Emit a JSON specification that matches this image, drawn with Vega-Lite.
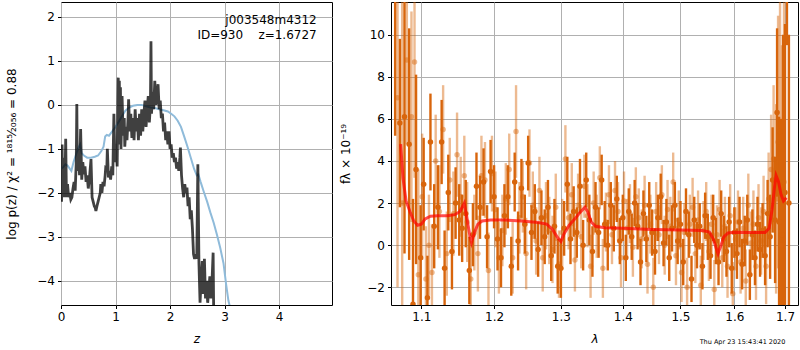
{
 "$schema": "https://vega.github.io/schema/vega-lite/v6.json",
 "padding": {"left": 5, "top": 1, "right": 0, "bottom": 0},
 "bounds": "flush",
 "spacing": 59,
 "config": {
  "font": "DejaVu Sans",
  "view": {"stroke": "black", "strokeWidth": 1},
  "axis": {"gridColor": "#b0b0b0", "gridWidth": 1, "gridOpacity": 1, "domain": false, "tickColor": "black", "tickSize": 3.5, "tickWidth": 1, "labelFontSize": 12, "labelColor": "black", "labelPadding": 3, "labelFlush": false, "labelOverlap": false, "titleFontSize": 12, "titleFontWeight": "normal", "titleColor": "black"},
  "axisX": {"titlePadding": 11}
 },
 "datasets": {
  "pz": [
   {"z":0.00,"v":-1.3},{"z":0.01,"v":-2.2},{"z":0.02,"v":-0.9},{"z":0.03,"v":-2.1},{"z":0.04,"v":-1.4},{"z":0.05,"v":-2.1},{"z":0.06,"v":-1.2},{"z":0.07,"v":-2.0},{"z":0.086,"v":-0.77},{"z":0.10,"v":-2.1},{"z":0.12,"v":-1.8},{"z":0.14,"v":-2.1},{"z":0.16,"v":-2.0},{"z":0.18,"v":-2.15},{"z":0.20,"v":-2.1},{"z":0.22,"v":-1.9},{"z":0.24,"v":-1.75},{"z":0.26,"v":-1.95},{"z":0.28,"v":-1.3},{"z":0.29,"v":0.02},{"z":0.30,"v":-1.5},{"z":0.32,"v":-1.0},{"z":0.34,"v":-1.6},{"z":0.36,"v":-0.55},{"z":0.38,"v":-1.7},{"z":0.40,"v":-1.3},{"z":0.42,"v":-1.58},{"z":0.44,"v":-1.4},{"z":0.46,"v":-1.75},{"z":0.48,"v":-1.6},{"z":0.50,"v":-1.9},{"z":0.52,"v":-1.7},{"z":0.55,"v":-1.23},{"z":0.57,"v":-2.1},{"z":0.59,"v":-2.2},{"z":0.61,"v":-2.3},{"z":0.63,"v":-2.35},{"z":0.64,"v":-2.41},{"z":0.66,"v":-2.3},{"z":0.68,"v":-2.2},{"z":0.70,"v":-2.1},{"z":0.72,"v":-2.0},{"z":0.73,"v":-1.8},{"z":0.75,"v":-2.0},{"z":0.77,"v":-1.75},{"z":0.79,"v":-1.85},{"z":0.81,"v":-1.6},{"z":0.82,"v":-1.43},{"z":0.84,"v":-1.45},{"z":0.85,"v":-1.0},{"z":0.87,"v":-1.65},{"z":0.89,"v":-1.5},{"z":0.91,"v":-1.7},{"z":0.93,"v":-1.4},{"z":0.95,"v":-1.6},{"z":0.97,"v":-0.2},{"z":0.99,"v":-1.3},{"z":1.01,"v":-0.9},{"z":1.03,"v":-1.4},{"z":1.05,"v":0.62},{"z":1.06,"v":-0.6},{"z":1.07,"v":0.55},{"z":1.08,"v":-0.9},{"z":1.09,"v":0.4},{"z":1.10,"v":-1.0},{"z":1.12,"v":0.2},{"z":1.14,"v":-0.7},{"z":1.16,"v":-0.3},{"z":1.17,"v":-0.95},{"z":1.19,"v":-0.5},{"z":1.21,"v":-0.8},{"z":1.23,"v":-0.3},{"z":1.24,"v":0.13},{"z":1.26,"v":-0.6},{"z":1.28,"v":-0.2},{"z":1.30,"v":-0.75},{"z":1.32,"v":-0.3},{"z":1.34,"v":-0.8},{"z":1.36,"v":-0.1},{"z":1.38,"v":-0.6},{"z":1.40,"v":-0.3},{"z":1.42,"v":-0.8},{"z":1.44,"v":-0.2},{"z":1.46,"v":-0.7},{"z":1.48,"v":-0.1},{"z":1.50,"v":-0.6},{"z":1.52,"v":-0.2},{"z":1.54,"v":0.1},{"z":1.56,"v":-0.5},{"z":1.58,"v":-0.1},{"z":1.60,"v":0.2},{"z":1.62,"v":-0.4},{"z":1.64,"v":0.0},{"z":1.65,"v":1.45},{"z":1.66,"v":-0.2},{"z":1.68,"v":0.3},{"z":1.70,"v":-0.1},{"z":1.72,"v":0.55},{"z":1.74,"v":0.0},{"z":1.76,"v":0.2},{"z":1.78,"v":0.47},{"z":1.80,"v":-0.1},{"z":1.82,"v":0.1},{"z":1.84,"v":-0.3},{"z":1.86,"v":-0.2},{"z":1.88,"v":-0.6},{"z":1.90,"v":-0.4},{"z":1.92,"v":-0.8},{"z":1.94,"v":-0.6},{"z":1.96,"v":-0.9},{"z":1.98,"v":-0.6},{"z":2.00,"v":-1.0},{"z":2.02,"v":-0.9},{"z":2.04,"v":-1.2},{"z":2.06,"v":-1.1},{"z":2.08,"v":-1.3},{"z":2.10,"v":-1.2},{"z":2.12,"v":-1.45},{"z":2.14,"v":-1.3},{"z":2.16,"v":-1.5},{"z":2.18,"v":-1.2},{"z":2.19,"v":-0.97},{"z":2.21,"v":-1.6},{"z":2.23,"v":-1.9},{"z":2.25,"v":-2.1},{"z":2.27,"v":-1.8},{"z":2.29,"v":-2.0},{"z":2.31,"v":-1.88},{"z":2.33,"v":-2.3},{"z":2.35,"v":-2.1},{"z":2.37,"v":-2.6},{"z":2.39,"v":-2.4},{"z":2.41,"v":-2.8},{"z":2.43,"v":-3.39},{"z":2.45,"v":-3.5},{"z":2.47,"v":-3.4},{"z":2.49,"v":-3.5},{"z":2.51,"v":-1.35},{"z":2.53,"v":-3.6},{"z":2.55,"v":-4.5},{"z":2.57,"v":-4.0},{"z":2.59,"v":-3.55},{"z":2.61,"v":-4.3},{"z":2.63,"v":-3.5},{"z":2.65,"v":-4.4},{"z":2.67,"v":-4.0},{"z":2.69,"v":-4.5},{"z":2.71,"v":-4.2},{"z":2.73,"v":-3.9},{"z":2.75,"v":-4.4},{"z":2.77,"v":-4.0},{"z":2.79,"v":-3.36},{"z":2.80,"v":-4.7}
  ],
  "chi": [
   {"z":0.00,"v":-1.45},{"z":0.04,"v":-1.42},{"z":0.08,"v":-1.35},{"z":0.12,"v":-1.38},{"z":0.16,"v":-1.45},{"z":0.19,"v":-1.5},{"z":0.23,"v":-1.3},{"z":0.27,"v":-1.15},{"z":0.31,"v":-1.0},{"z":0.35,"v":-0.9},{"z":0.38,"v":-1.1},{"z":0.42,"v":-1.15},{"z":0.48,"v":-1.2},{"z":0.55,"v":-1.2},{"z":0.62,"v":-1.18},{"z":0.68,"v":-1.15},{"z":0.74,"v":-1.05},{"z":0.78,"v":-0.95},{"z":0.81,"v":-0.72},{"z":0.84,"v":-0.68},{"z":0.88,"v":-0.7},{"z":0.94,"v":-0.6},{"z":1.00,"v":-0.5},{"z":1.06,"v":-0.38},{"z":1.12,"v":-0.25},{"z":1.18,"v":-0.13},{"z":1.25,"v":-0.06},{"z":1.32,"v":-0.02},{"z":1.40,"v":0.0},{"z":1.48,"v":0.0},{"z":1.56,"v":-0.03},{"z":1.64,"v":-0.06},{"z":1.72,"v":-0.07},{"z":1.80,"v":-0.1},{"z":1.88,"v":-0.12},{"z":1.96,"v":-0.15},{"z":2.02,"v":-0.2},{"z":2.08,"v":-0.26},{"z":2.14,"v":-0.36},{"z":2.20,"v":-0.5},{"z":2.26,"v":-0.72},{"z":2.32,"v":-0.95},{"z":2.38,"v":-1.2},{"z":2.44,"v":-1.45},{"z":2.49,"v":-1.6},{"z":2.52,"v":-1.58},{"z":2.56,"v":-1.75},{"z":2.62,"v":-1.98},{"z":2.68,"v":-2.2},{"z":2.74,"v":-2.45},{"z":2.80,"v":-2.68},{"z":2.86,"v":-2.95},{"z":2.92,"v":-3.25},{"z":2.98,"v":-3.6},{"z":3.03,"v":-4.1},{"z":3.07,"v":-4.45},{"z":3.10,"v":-4.6}
  ],
  "notes": [
   {"z":4.69,"v":1.834,"t":"j003548m4312"},
   {"z":4.69,"v":1.493,"t":"ID=930\u00a0\u00a0\u00a0\u00a0z=1.6727"}
  ],
  "spec": [
   {"w":1.066,"f":12,"lo":5.2,"hi":18.8,"s":"A"},{"w":1.072,"f":5.8,"lo":1.8,"hi":9.8,"s":"A"},{"w":1.078,"f":6.1,"lo":-0.4,"hi":12.6,"s":"A"},{"w":1.084,"f":4.8,"lo":-0.7,"hi":10.3,"s":"A"},{"w":1.089,"f":-2.8,"lo":-7.8,"hi":2.2,"s":"A"},{"w":1.093,"f":3.6,"lo":-0.9,"hi":8.1,"s":"A"},{"w":1.099,"f":-0.6,"lo":-3.1,"hi":1.9,"s":"A"},{"w":1.103,"f":2.9,"lo":0.7,"hi":5.1,"s":"A"},{"w":1.108,"f":-2.5,"lo":-4.5,"hi":-0.5,"s":"A"},{"w":1.112,"f":4.9,"lo":2.6,"hi":7.2,"s":"A"},{"w":1.117,"f":0.9,"lo":-1.1,"hi":2.9,"s":"A"},{"w":1.122,"f":1.8,"lo":-0.2,"hi":3.8,"s":"A"},{"w":1.127,"f":4.9,"lo":2.9,"hi":6.9,"s":"A"},{"w":1.131,"f":-1.1,"lo":-2.9,"hi":0.7,"s":"A"},{"w":1.136,"f":2.5,"lo":0.7,"hi":4.3,"s":"A"},{"w":1.141,"f":-0.3,"lo":-2.1,"hi":1.5,"s":"A"},{"w":1.146,"f":2.0,"lo":0.3,"hi":3.7,"s":"A"},{"w":1.151,"f":1.2,"lo":-0.5,"hi":2.9,"s":"A"},{"w":1.155,"f":0.8,"lo":-0.8,"hi":2.4,"s":"A"},{"w":1.160,"f":1.5,"lo":-0.1,"hi":3.1,"s":"A"},{"w":1.165,"f":-1.2,"lo":-2.8,"hi":0.4,"s":"A"},{"w":1.170,"f":0.5,"lo":-1.0,"hi":2.0,"s":"A"},{"w":1.175,"f":2.8,"lo":1.2,"hi":4.4,"s":"A"},{"w":1.180,"f":1.8,"lo":0.3,"hi":3.3,"s":"A"},{"w":1.185,"f":3.0,"lo":1.4,"hi":4.6,"s":"A"},{"w":1.190,"f":0.4,"lo":-1.1,"hi":1.9,"s":"A"},{"w":1.195,"f":3.5,"lo":2.0,"hi":5.0,"s":"A"},{"w":1.200,"f":2.3,"lo":0.8,"hi":3.8,"s":"A"},{"w":1.205,"f":0.3,"lo":-1.2,"hi":1.8,"s":"A"},{"w":1.210,"f":-0.6,"lo":-2.0,"hi":0.8,"s":"A"},{"w":1.215,"f":1.4,"lo":-0.1,"hi":2.9,"s":"A"},{"w":1.220,"f":2.3,"lo":0.8,"hi":3.8,"s":"A"},{"w":1.225,"f":-1.0,"lo":-2.4,"hi":0.4,"s":"A"},{"w":1.230,"f":3.0,"lo":1.6,"hi":4.4,"s":"A"},{"w":1.235,"f":0.2,"lo":-1.2,"hi":1.6,"s":"A"},{"w":1.240,"f":2.7,"lo":1.3,"hi":4.1,"s":"A"},{"w":1.245,"f":1.0,"lo":-0.4,"hi":2.4,"s":"A"},{"w":1.250,"f":3.9,"lo":2.6,"hi":5.2,"s":"A"},{"w":1.255,"f":0.6,"lo":-0.7,"hi":1.9,"s":"A"},{"w":1.260,"f":1.6,"lo":0.3,"hi":2.9,"s":"A"},{"w":1.265,"f":-0.2,"lo":-1.5,"hi":1.1,"s":"A"},{"w":1.270,"f":1.3,"lo":0.0,"hi":2.6,"s":"A"},{"w":1.275,"f":0.4,"lo":-0.9,"hi":1.7,"s":"A"},{"w":1.280,"f":1.8,"lo":0.5,"hi":3.1,"s":"A"},{"w":1.285,"f":-0.5,"lo":-1.7,"hi":0.7,"s":"A"},{"w":1.290,"f":0.9,"lo":-0.4,"hi":2.2,"s":"A"},{"w":1.295,"f":-1.0,"lo":-2.3,"hi":0.3,"s":"A"},{"w":1.300,"f":-1.1,"lo":-2.5,"hi":0.3,"s":"A"},{"w":1.305,"f":0.8,"lo":-0.5,"hi":2.1,"s":"A"},{"w":1.310,"f":2.9,"lo":1.6,"hi":4.2,"s":"A"},{"w":1.315,"f":0.3,"lo":-0.9,"hi":1.5,"s":"A"},{"w":1.320,"f":1.6,"lo":0.4,"hi":2.8,"s":"A"},{"w":1.325,"f":0.6,"lo":-0.6,"hi":1.8,"s":"A"},{"w":1.330,"f":2.8,"lo":1.5,"hi":4.1,"s":"A"},{"w":1.335,"f":0.0,"lo":-1.2,"hi":1.2,"s":"A"},{"w":1.340,"f":3.1,"lo":1.8,"hi":4.4,"s":"A"},{"w":1.345,"f":1.2,"lo":0.0,"hi":2.4,"s":"A"},{"w":1.350,"f":-0.3,"lo":-1.5,"hi":0.9,"s":"A"},{"w":1.355,"f":1.8,"lo":0.6,"hi":3.0,"s":"A"},{"w":1.360,"f":0.6,"lo":-0.6,"hi":1.8,"s":"A"},{"w":1.365,"f":3.1,"lo":1.9,"hi":4.3,"s":"A"},{"w":1.370,"f":1.0,"lo":-0.1,"hi":2.1,"s":"A"},{"w":1.375,"f":0.0,"lo":-1.2,"hi":1.2,"s":"A"},{"w":1.380,"f":1.9,"lo":0.8,"hi":3.0,"s":"A"},{"w":1.385,"f":0.8,"lo":-0.3,"hi":1.9,"s":"A"},{"w":1.390,"f":2.2,"lo":1.1,"hi":3.3,"s":"A"},{"w":1.395,"f":0.2,"lo":-0.9,"hi":1.3,"s":"A"},{"w":1.400,"f":1.3,"lo":0.2,"hi":2.4,"s":"A"},{"w":1.405,"f":-0.6,"lo":-1.7,"hi":0.5,"s":"A"},{"w":1.410,"f":1.6,"lo":0.5,"hi":2.7,"s":"A"},{"w":1.415,"f":0.4,"lo":-0.7,"hi":1.5,"s":"A"},{"w":1.420,"f":2.0,"lo":0.9,"hi":3.1,"s":"A"},{"w":1.425,"f":0.9,"lo":-0.2,"hi":2.0,"s":"A"},{"w":1.430,"f":-0.8,"lo":-1.9,"hi":0.3,"s":"A"},{"w":1.435,"f":1.5,"lo":0.4,"hi":2.6,"s":"A"},{"w":1.440,"f":0.3,"lo":-0.8,"hi":1.4,"s":"A"},{"w":1.445,"f":1.9,"lo":0.8,"hi":3.0,"s":"A"},{"w":1.450,"f":0.6,"lo":-0.5,"hi":1.7,"s":"A"},{"w":1.455,"f":-0.3,"lo":-1.4,"hi":0.8,"s":"A"},{"w":1.460,"f":1.3,"lo":0.2,"hi":2.4,"s":"A"},{"w":1.465,"f":2.3,"lo":1.2,"hi":3.4,"s":"A"},{"w":1.470,"f":0.1,"lo":-1.0,"hi":1.2,"s":"A"},{"w":1.475,"f":1.1,"lo":0.0,"hi":2.2,"s":"A"},{"w":1.480,"f":-0.6,"lo":-1.7,"hi":0.5,"s":"A"},{"w":1.485,"f":0.8,"lo":-0.3,"hi":1.9,"s":"A"},{"w":1.490,"f":1.9,"lo":0.8,"hi":3.0,"s":"A"},{"w":1.495,"f":0.2,"lo":-0.9,"hi":1.3,"s":"A"},{"w":1.500,"f":1.0,"lo":-0.1,"hi":2.1,"s":"A"},{"w":1.505,"f":-0.8,"lo":-1.9,"hi":0.3,"s":"A"},{"w":1.510,"f":1.6,"lo":0.5,"hi":2.7,"s":"A"},{"w":1.515,"f":0.5,"lo":-0.6,"hi":1.6,"s":"A"},{"w":1.520,"f":-1.6,"lo":-2.7,"hi":-0.5,"s":"A"},{"w":1.525,"f":1.2,"lo":0.1,"hi":2.3,"s":"A"},{"w":1.530,"f":0.0,"lo":-1.1,"hi":1.1,"s":"A"},{"w":1.535,"f":0.9,"lo":-0.2,"hi":2.0,"s":"A"},{"w":1.540,"f":-1.0,"lo":-2.1,"hi":0.1,"s":"A"},{"w":1.545,"f":1.4,"lo":0.3,"hi":2.5,"s":"A"},{"w":1.550,"f":0.4,"lo":-0.7,"hi":1.5,"s":"A"},{"w":1.555,"f":-0.5,"lo":-1.6,"hi":0.6,"s":"A"},{"w":1.560,"f":1.3,"lo":0.2,"hi":2.4,"s":"A"},{"w":1.565,"f":0.2,"lo":-0.9,"hi":1.3,"s":"A"},{"w":1.570,"f":-0.8,"lo":-1.9,"hi":0.3,"s":"A"},{"w":1.575,"f":1.5,"lo":0.4,"hi":2.6,"s":"A"},{"w":1.580,"f":0.3,"lo":-0.8,"hi":1.4,"s":"A"},{"w":1.585,"f":-0.3,"lo":-1.5,"hi":0.9,"s":"A"},{"w":1.590,"f":1.1,"lo":-0.1,"hi":2.3,"s":"A"},{"w":1.595,"f":-1.1,"lo":-2.3,"hi":0.1,"s":"A"},{"w":1.600,"f":0.6,"lo":-0.6,"hi":1.8,"s":"A"},{"w":1.605,"f":-0.4,"lo":-1.6,"hi":0.8,"s":"A"},{"w":1.610,"f":1.1,"lo":-0.1,"hi":2.3,"s":"A"},{"w":1.615,"f":-0.9,"lo":-2.1,"hi":0.3,"s":"A"},{"w":1.620,"f":0.2,"lo":-1.0,"hi":1.4,"s":"A"},{"w":1.625,"f":1.2,"lo":0.0,"hi":2.4,"s":"A"},{"w":1.630,"f":-1.4,"lo":-2.6,"hi":-0.2,"s":"A"},{"w":1.635,"f":0.5,"lo":-0.7,"hi":1.7,"s":"A"},{"w":1.640,"f":-0.6,"lo":-1.9,"hi":0.7,"s":"A"},{"w":1.645,"f":1.0,"lo":-0.3,"hi":2.3,"s":"A"},{"w":1.650,"f":-0.2,"lo":-1.5,"hi":1.1,"s":"A"},{"w":1.655,"f":0.7,"lo":-0.6,"hi":2.0,"s":"A"},{"w":1.660,"f":-0.5,"lo":-1.9,"hi":0.9,"s":"A"},{"w":1.665,"f":1.5,"lo":-0.1,"hi":3.1,"s":"A"},{"w":1.670,"f":0.4,"lo":-1.6,"hi":2.4,"s":"A"},{"w":1.675,"f":3.1,"lo":0.6,"hi":5.6,"s":"A"},{"w":1.680,"f":1.2,"lo":-1.8,"hi":4.2,"s":"A"},{"w":1.684,"f":6.3,"lo":2.3,"hi":10.3,"s":"A"},{"w":1.688,"f":1.1,"lo":-3.9,"hi":6.1,"s":"A"},{"w":1.692,"f":0.0,"lo":-6.0,"hi":6.0,"s":"A"},{"w":1.696,"f":3.0,"lo":-4.0,"hi":10.0,"s":"A"},{"w":1.700,"f":2.5,"lo":-5.5,"hi":10.5,"s":"A"},{"w":1.704,"f":14.0,"lo":9.5,"hi":18.5,"s":"A"},{"w":1.708,"f":2.0,"lo":-6.0,"hi":10.0,"s":"A"},
   {"w":1.069,"f":7.0,"lo":-2.0,"hi":16.0,"s":"B"},{"w":1.075,"f":2.0,"lo":-8.0,"hi":12.0,"s":"B"},{"w":1.081,"f":8.8,"lo":4.8,"hi":12.8,"s":"B"},{"w":1.087,"f":6.1,"lo":1.1,"hi":11.1,"s":"B"},{"w":1.091,"f":8.7,"lo":3.2,"hi":14.2,"s":"B"},{"w":1.096,"f":-1.4,"lo":-6.4,"hi":3.6,"s":"B"},{"w":1.101,"f":2.3,"lo":-0.7,"hi":5.3,"s":"B"},{"w":1.106,"f":-1.6,"lo":-4.1,"hi":0.9,"s":"B"},{"w":1.110,"f":0.0,"lo":-2.4,"hi":2.4,"s":"B"},{"w":1.114,"f":-1.3,"lo":-3.6,"hi":1.0,"s":"B"},{"w":1.119,"f":4.0,"lo":1.8,"hi":6.2,"s":"B"},{"w":1.124,"f":1.6,"lo":-0.6,"hi":3.8,"s":"B"},{"w":1.129,"f":5.5,"lo":3.4,"hi":7.6,"s":"B"},{"w":1.134,"f":-0.4,"lo":-2.4,"hi":1.6,"s":"B"},{"w":1.138,"f":3.1,"lo":1.1,"hi":5.1,"s":"B"},{"w":1.143,"f":1.5,"lo":-0.5,"hi":3.5,"s":"B"},{"w":1.148,"f":4.3,"lo":2.3,"hi":6.3,"s":"B"},{"w":1.153,"f":2.3,"lo":0.4,"hi":4.2,"s":"B"},{"w":1.158,"f":3.3,"lo":1.4,"hi":5.2,"s":"B"},{"w":1.162,"f":1.1,"lo":-0.8,"hi":3.0,"s":"B"},{"w":1.167,"f":-1.6,"lo":-3.4,"hi":0.2,"s":"B"},{"w":1.172,"f":0.6,"lo":-1.2,"hi":2.4,"s":"B"},{"w":1.177,"f":-0.4,"lo":-2.2,"hi":1.4,"s":"B"},{"w":1.182,"f":3.3,"lo":1.4,"hi":5.2,"s":"B"},{"w":1.187,"f":3.1,"lo":1.3,"hi":4.9,"s":"B"},{"w":1.192,"f":-1.2,"lo":-3.0,"hi":0.6,"s":"B"},{"w":1.197,"f":3.4,"lo":1.6,"hi":5.2,"s":"B"},{"w":1.202,"f":1.7,"lo":-0.1,"hi":3.5,"s":"B"},{"w":1.207,"f":-0.6,"lo":-2.3,"hi":1.1,"s":"B"},{"w":1.212,"f":0.7,"lo":-1.0,"hi":2.4,"s":"B"},{"w":1.217,"f":2.2,"lo":0.5,"hi":3.9,"s":"B"},{"w":1.222,"f":3.6,"lo":1.9,"hi":5.3,"s":"B"},{"w":1.227,"f":-0.6,"lo":-2.3,"hi":1.1,"s":"B"},{"w":1.232,"f":5.4,"lo":3.2,"hi":7.6,"s":"B"},{"w":1.237,"f":1.3,"lo":-0.4,"hi":3.0,"s":"B"},{"w":1.242,"f":2.3,"lo":0.6,"hi":4.0,"s":"B"},{"w":1.247,"f":-0.4,"lo":-2.1,"hi":1.3,"s":"B"},{"w":1.252,"f":3.9,"lo":2.3,"hi":5.5,"s":"B"},{"w":1.257,"f":1.9,"lo":0.3,"hi":3.5,"s":"B"},{"w":1.262,"f":0.2,"lo":-1.4,"hi":1.8,"s":"B"},{"w":1.267,"f":2.6,"lo":1.0,"hi":4.2,"s":"B"},{"w":1.272,"f":-0.6,"lo":-2.2,"hi":1.0,"s":"B"},{"w":1.277,"f":1.4,"lo":-0.2,"hi":3.0,"s":"B"},{"w":1.282,"f":0.7,"lo":-0.9,"hi":2.3,"s":"B"},{"w":1.287,"f":-0.2,"lo":-1.8,"hi":1.4,"s":"B"},{"w":1.292,"f":1.8,"lo":0.2,"hi":3.4,"s":"B"},{"w":1.297,"f":-0.9,"lo":-2.5,"hi":0.7,"s":"B"},{"w":1.302,"f":0.6,"lo":-1.0,"hi":2.2,"s":"B"},{"w":1.307,"f":4.1,"lo":2.5,"hi":5.7,"s":"B"},{"w":1.312,"f":1.3,"lo":-0.2,"hi":2.8,"s":"B"},{"w":1.317,"f":2.4,"lo":0.9,"hi":3.9,"s":"B"},{"w":1.322,"f":-0.7,"lo":-2.2,"hi":0.8,"s":"B"},{"w":1.327,"f":1.9,"lo":0.4,"hi":3.4,"s":"B"},{"w":1.332,"f":0.4,"lo":-1.1,"hi":1.9,"s":"B"},{"w":1.337,"f":2.8,"lo":1.3,"hi":4.3,"s":"B"},{"w":1.342,"f":1.4,"lo":-0.1,"hi":2.9,"s":"B"},{"w":1.347,"f":-1.0,"lo":-2.5,"hi":0.5,"s":"B"},{"w":1.352,"f":2.0,"lo":0.5,"hi":3.5,"s":"B"},{"w":1.357,"f":0.9,"lo":-0.6,"hi":2.4,"s":"B"},{"w":1.362,"f":3.2,"lo":1.7,"hi":4.7,"s":"B"},{"w":1.367,"f":-1.1,"lo":-2.5,"hi":0.3,"s":"B"},{"w":1.372,"f":1.1,"lo":-0.3,"hi":2.5,"s":"B"},{"w":1.377,"f":2.4,"lo":1.0,"hi":3.8,"s":"B"},{"w":1.382,"f":0.5,"lo":-0.9,"hi":1.9,"s":"B"},{"w":1.387,"f":2.6,"lo":1.2,"hi":4.0,"s":"B"},{"w":1.392,"f":1.6,"lo":0.2,"hi":3.0,"s":"B"},{"w":1.397,"f":-0.6,"lo":-2.0,"hi":0.8,"s":"B"},{"w":1.402,"f":2.1,"lo":0.7,"hi":3.5,"s":"B"},{"w":1.407,"f":0.8,"lo":-0.6,"hi":2.2,"s":"B"},{"w":1.412,"f":1.5,"lo":0.1,"hi":2.9,"s":"B"},{"w":1.417,"f":-0.1,"lo":-1.5,"hi":1.3,"s":"B"},{"w":1.422,"f":2.3,"lo":0.9,"hi":3.7,"s":"B"},{"w":1.427,"f":1.3,"lo":-0.1,"hi":2.7,"s":"B"},{"w":1.432,"f":0.3,"lo":-1.1,"hi":1.7,"s":"B"},{"w":1.437,"f":1.9,"lo":0.5,"hi":3.3,"s":"B"},{"w":1.442,"f":-0.9,"lo":-2.3,"hi":0.5,"s":"B"},{"w":1.447,"f":1.0,"lo":-0.4,"hi":2.4,"s":"B"},{"w":1.452,"f":-2.0,"lo":-3.4,"hi":-0.6,"s":"B"},{"w":1.457,"f":1.6,"lo":0.2,"hi":3.0,"s":"B"},{"w":1.462,"f":0.5,"lo":-0.9,"hi":1.9,"s":"B"},{"w":1.467,"f":2.4,"lo":1.0,"hi":3.8,"s":"B"},{"w":1.472,"f":0.0,"lo":-1.4,"hi":1.4,"s":"B"},{"w":1.477,"f":1.7,"lo":0.3,"hi":3.1,"s":"B"},{"w":1.482,"f":0.9,"lo":-0.5,"hi":2.3,"s":"B"},{"w":1.487,"f":3.0,"lo":1.6,"hi":4.4,"s":"B"},{"w":1.492,"f":-0.5,"lo":-1.9,"hi":0.9,"s":"B"},{"w":1.497,"f":1.2,"lo":-0.2,"hi":2.6,"s":"B"},{"w":1.502,"f":-1.3,"lo":-2.7,"hi":0.1,"s":"B"},{"w":1.507,"f":0.6,"lo":-0.8,"hi":2.0,"s":"B"},{"w":1.512,"f":-2.0,"lo":-3.4,"hi":-0.6,"s":"B"},{"w":1.517,"f":1.0,"lo":-0.4,"hi":2.4,"s":"B"},{"w":1.522,"f":1.8,"lo":0.4,"hi":3.2,"s":"B"},{"w":1.527,"f":-0.4,"lo":-1.8,"hi":1.0,"s":"B"},{"w":1.532,"f":1.2,"lo":-0.2,"hi":2.6,"s":"B"},{"w":1.537,"f":-1.9,"lo":-3.3,"hi":-0.5,"s":"B"},{"w":1.542,"f":0.7,"lo":-0.7,"hi":2.1,"s":"B"},{"w":1.547,"f":1.6,"lo":0.2,"hi":3.0,"s":"B"},{"w":1.552,"f":-0.3,"lo":-1.7,"hi":1.1,"s":"B"},{"w":1.557,"f":1.0,"lo":-0.4,"hi":2.4,"s":"B"},{"w":1.562,"f":-2.1,"lo":-3.5,"hi":-0.7,"s":"B"},{"w":1.567,"f":0.5,"lo":-0.9,"hi":1.9,"s":"B"},{"w":1.572,"f":1.7,"lo":0.3,"hi":3.1,"s":"B"},{"w":1.577,"f":-0.6,"lo":-2.0,"hi":0.8,"s":"B"},{"w":1.582,"f":0.9,"lo":-0.5,"hi":2.3,"s":"B"},{"w":1.587,"f":-1.0,"lo":-2.5,"hi":0.5,"s":"B"},{"w":1.592,"f":1.4,"lo":-0.1,"hi":2.9,"s":"B"},{"w":1.597,"f":-2.3,"lo":-3.8,"hi":-0.8,"s":"B"},{"w":1.602,"f":0.3,"lo":-1.2,"hi":1.8,"s":"B"},{"w":1.607,"f":1.1,"lo":-0.4,"hi":2.6,"s":"B"},{"w":1.612,"f":-0.8,"lo":-2.3,"hi":0.7,"s":"B"},{"w":1.617,"f":0.8,"lo":-0.7,"hi":2.3,"s":"B"},{"w":1.622,"f":-1.7,"lo":-3.2,"hi":-0.2,"s":"B"},{"w":1.627,"f":1.9,"lo":0.4,"hi":3.4,"s":"B"},{"w":1.632,"f":0.1,"lo":-1.4,"hi":1.6,"s":"B"},{"w":1.637,"f":1.0,"lo":-0.6,"hi":2.6,"s":"B"},{"w":1.642,"f":-1.0,"lo":-2.6,"hi":0.6,"s":"B"},{"w":1.647,"f":1.3,"lo":-0.3,"hi":2.9,"s":"B"},{"w":1.652,"f":0.2,"lo":-1.4,"hi":1.8,"s":"B"},{"w":1.657,"f":1.6,"lo":-0.1,"hi":3.3,"s":"B"},{"w":1.662,"f":-1.0,"lo":-2.8,"hi":0.8,"s":"B"},{"w":1.667,"f":2.2,"lo":0.0,"hi":4.4,"s":"B"},{"w":1.672,"f":3.6,"lo":1.0,"hi":6.2,"s":"B"},{"w":1.677,"f":4.1,"lo":0.6,"hi":7.6,"s":"B"},{"w":1.682,"f":2.2,"lo":-2.3,"hi":6.7,"s":"B"},{"w":1.686,"f":4.9,"lo":-1.1,"hi":10.9,"s":"B"},{"w":1.690,"f":5.4,"lo":-1.6,"hi":12.4,"s":"B"},{"w":1.694,"f":0.5,"lo":-8.5,"hi":9.5,"s":"B"},{"w":1.698,"f":3.0,"lo":-7.0,"hi":13.0,"s":"B"}
  ],
  "model": [
   {"w":1.073,"f":4.8},{"w":1.076,"f":3.2},{"w":1.080,"f":2.1},{"w":1.085,"f":1.6},{"w":1.090,"f":1.15},{"w":1.095,"f":0.95},{"w":1.100,"f":1.0},{"w":1.105,"f":1.25},{"w":1.112,"f":1.38},{"w":1.122,"f":1.4},{"w":1.135,"f":1.4},{"w":1.145,"f":1.45},{"w":1.152,"f":1.6},{"w":1.158,"f":2.0},{"w":1.162,"f":1.2},{"w":1.166,"f":0.4},{"w":1.168,"f":0.12},{"w":1.172,"f":0.6},{"w":1.177,"f":1.0},{"w":1.183,"f":1.15},{"w":1.195,"f":1.2},{"w":1.215,"f":1.2},{"w":1.240,"f":1.15},{"w":1.265,"f":1.08},{"w":1.278,"f":1.0},{"w":1.287,"f":0.75},{"w":1.295,"f":0.35},{"w":1.300,"f":0.18},{"w":1.305,"f":0.55},{"w":1.313,"f":0.95},{"w":1.322,"f":1.25},{"w":1.330,"f":1.55},{"w":1.338,"f":1.8},{"w":1.343,"f":1.55},{"w":1.348,"f":1.1},{"w":1.355,"f":0.9},{"w":1.370,"f":0.83},{"w":1.400,"f":0.8},{"w":1.450,"f":0.75},{"w":1.500,"f":0.72},{"w":1.540,"f":0.7},{"w":1.553,"f":0.62},{"w":1.560,"f":0.3},{"w":1.565,"f":-0.1},{"w":1.569,"f":-0.4},{"w":1.574,"f":-0.05},{"w":1.580,"f":0.4},{"w":1.588,"f":0.58},{"w":1.600,"f":0.62},{"w":1.630,"f":0.6},{"w":1.660,"f":0.6},{"w":1.668,"f":0.8},{"w":1.674,"f":1.7},{"w":1.679,"f":2.8},{"w":1.682,"f":3.3},{"w":1.687,"f":3.0},{"w":1.692,"f":2.4},{"w":1.697,"f":2.1},{"w":1.703,"f":2.25}
  ],
  "stamp": [{"w":1.6157,"f":-4.7,"t":"Thu Apr 23 15:43:41 2020"}]
 },
 "hconcat": [
  {
   "width": 271,
   "height": 303,
   "layer": [
    {"data": {"name": "chi"}, "mark": {"type": "line", "color": "#8fbbda", "strokeWidth": 2, "clip": true},
     "encoding": {
      "x": {"field": "z", "type": "quantitative", "scale": {"domain": [0, 4.97], "nice": false, "zero": false}, "axis": {"title": "z", "titleFontStyle": "italic", "values": [0, 1, 2, 3, 4], "format": "d"}},
      "y": {"field": "v", "type": "quantitative", "scale": {"domain": [-4.55, 2.34], "nice": false, "zero": false}, "axis": {"title": "log p(z) / χ² = ¹⁸¹⁵⁄₂₀₅₆ = 0.88", "values": [-4, -3, -2, -1, 0, 1, 2], "labelExpr": "replace(format(datum.value,'d'),'-','−')", "titlePadding": 18}}
     }},
    {"data": {"name": "pz"}, "mark": {"type": "line", "color": "#000000", "opacity": 0.75, "strokeWidth": 2.8, "clip": true},
     "encoding": {
      "x": {"field": "z", "type": "quantitative"},
      "y": {"field": "v", "type": "quantitative"}
     }},
    {"data": {"name": "notes"}, "mark": {"type": "text", "align": "right", "baseline": "alphabetic", "fontSize": 12, "color": "black"},
     "encoding": {
      "x": {"field": "z", "type": "quantitative"},
      "y": {"field": "v", "type": "quantitative"},
      "text": {"field": "t"}
     }}
   ]
  },
  {
   "width": 407,
   "height": 303,
   "layer": [
    {"data": {"name": "spec"}, "mark": {"type": "rule", "strokeWidth": 2.4, "clip": true},
     "encoding": {
      "x": {"field": "w", "type": "quantitative", "scale": {"type": "log", "domain": [1.0607, 1.7267], "nice": false}, "axis": {"title": "λ", "titleFontStyle": "italic", "values": [1.1, 1.2, 1.3, 1.4, 1.5, 1.6, 1.7], "format": ".1f"}},
      "y": {"field": "lo", "type": "quantitative", "scale": {"domain": [-2.84, 11.55], "nice": false, "zero": false}, "axis": {"title": "fλ × 10⁻¹⁹", "values": [-2, 0, 2, 4, 6, 8, 10], "labelExpr": "replace(format(datum.value,'d'),'-','−')", "titlePadding": 14}},
      "y2": {"field": "hi"},
      "color": {"field": "s", "type": "nominal", "scale": {"domain": ["A", "B"], "range": ["#d8650c", "#d8650c"]}, "legend": null},
      "opacity": {"field": "s", "type": "nominal", "scale": {"domain": ["A", "B"], "range": [1, 0.45]}, "legend": null}
     }},
    {"data": {"name": "spec"}, "mark": {"type": "circle", "size": 30, "clip": true},
     "encoding": {
      "x": {"field": "w", "type": "quantitative"},
      "y": {"field": "f", "type": "quantitative", "axis": {"title": "fλ × 10⁻¹⁹"}},
      "color": {"field": "s", "type": "nominal", "scale": {"domain": ["A", "B"], "range": ["#d8650c", "#d8650c"]}, "legend": null},
      "opacity": {"field": "s", "type": "nominal", "scale": {"domain": ["A", "B"], "range": [1, 0.45]}, "legend": null}
     }},
    {"data": {"name": "model"}, "mark": {"type": "line", "color": "#ff0000", "opacity": 0.7, "strokeWidth": 3, "clip": true},
     "encoding": {
      "x": {"field": "w", "type": "quantitative"},
      "y": {"field": "f", "type": "quantitative", "axis": {"title": "fλ × 10⁻¹⁹"}}
     }},
    {"mark": {"type": "rule", "color": "black", "strokeDash": [2.5, 3.2], "strokeWidth": 2},
     "encoding": {"y": {"datum": 0, "type": "quantitative"}}},
    {"data": {"name": "stamp"}, "mark": {"type": "text", "align": "center", "baseline": "alphabetic", "fontSize": 6.5, "color": "black"},
     "encoding": {
      "x": {"field": "w", "type": "quantitative"},
      "y": {"field": "f", "type": "quantitative", "axis": {"title": "fλ × 10⁻¹⁹"}},
      "text": {"field": "t"}
     }}
   ]
  }
 ]
}
